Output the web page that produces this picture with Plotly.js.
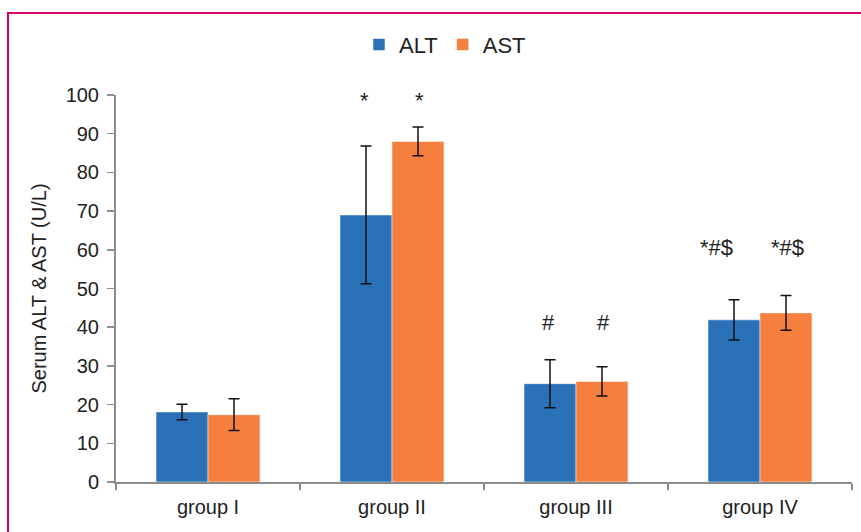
<!DOCTYPE html>
<html>
<head>
<meta charset="utf-8">
<script src="https://cdn.plot.ly/plotly-3.0.1.min.js"></script>
<style>
html,body{margin:0;padding:0;background:#fff;}
#wrap{position:relative;width:861px;height:532px;overflow:hidden;}
#chart{position:absolute;left:0;top:0;width:861px;height:532px;}
#frame{position:absolute;left:7px;top:12px;width:900px;height:600px;border-left:2px solid #d9006c;border-top:2px solid #d9006c;pointer-events:none;}
</style>
</head>
<body>
<div id="wrap"><div id="chart"></div><div id="frame"></div></div>
<script>
const groups = ["group I", "group II", "group III", "group IV"];
const altValues = [18.1, 69.0, 25.4, 41.9];
const altErrors = [2.0, 17.8, 6.2, 5.2];
const astValues = [17.4, 88.0, 26.0, 43.7];
const astErrors = [4.1, 3.7, 3.8, 4.5];
const altMarks = ["", "*", "#", "*#$"];
const astMarks = ["", "*", "#", "*#$"];
const yTicks = [0, 10, 20, 30, 40, 50, 60, 70, 80, 90, 100];

const FONT = "Liberation Sans, Arial, sans-serif";
const blue = "#2a71b7";
const orange = "#f47f3f";

const errStyle = {type: "data", visible: true, color: "#111", thickness: 1.5, width: 5.5};

const traces = [
  {type: "bar", name: "ALT", x: groups, y: altValues,
   marker: {color: blue, line: {color: "rgba(255,255,255,0.5)", width: 1}},
   error_y: Object.assign({array: altErrors}, errStyle)},
  {type: "bar", name: "AST", x: groups, y: astValues,
   marker: {color: orange, line: {color: "rgba(255,255,255,0.5)", width: 1}},
   error_y: Object.assign({array: astErrors}, errStyle)}
];

const annotations = [];
const markY = {"*": 98.6, "#": 41.3, "*#$": 60.5};
groups.forEach((g, i) => {
  [[altMarks[i], i === 3 ? -44 : -28], [astMarks[i], 27]].forEach(([t, dx]) => {
    if (!t) return;
    annotations.push({x: g, y: markY[t], xref: "x", yref: "y", text: t, showarrow: false,
      xshift: dx, font: {family: FONT, size: 22, color: "#222"}});
  });
});

const layout = {
  width: 861, height: 532,
  margin: {l: 116, r: 9, t: 95, b: 50},
  paper_bgcolor: "rgba(0,0,0,0)", plot_bgcolor: "#fff",
  barmode: "group", bargap: 0.435, bargroupgap: 0,
  font: {family: FONT, size: 20, color: "#222"},
  showlegend: true,
  legend: {orientation: "h", x: 0.447, xanchor: "center", y: 1.13, yanchor: "middle",
    font: {family: FONT, size: 22, color: "#222"}, itemwidth: 30, traceorder: "normal"},
  xaxis: {type: "category", showline: true, linecolor: "#8c8c8c", linewidth: 2,
    ticks: "outside", tickson: "boundaries", ticklen: 6, tickcolor: "#8c8c8c", tickwidth: 1.5,
    ticklabelstandoff: 6,
    showgrid: false, zeroline: false, tickfont: {family: FONT, size: 20, color: "#222"}},
  yaxis: {range: [0, 100], tickvals: yTicks, showline: true, linecolor: "#8c8c8c", linewidth: 2,
    ticks: "outside", ticklen: 7, tickcolor: "#8c8c8c", tickwidth: 1.5, ticklabelstandoff: 4,
    showgrid: false, zeroline: false, tickfont: {family: FONT, size: 20, color: "#222"},
    title: {text: "Serum ALT & AST (U/L)", font: {family: FONT, size: 20, color: "#222"}, standoff: 14}},
  annotations: annotations
};

Plotly.newPlot("chart", traces, layout, {displayModeBar: false, staticPlot: true});
</script>
</body>
</html>
